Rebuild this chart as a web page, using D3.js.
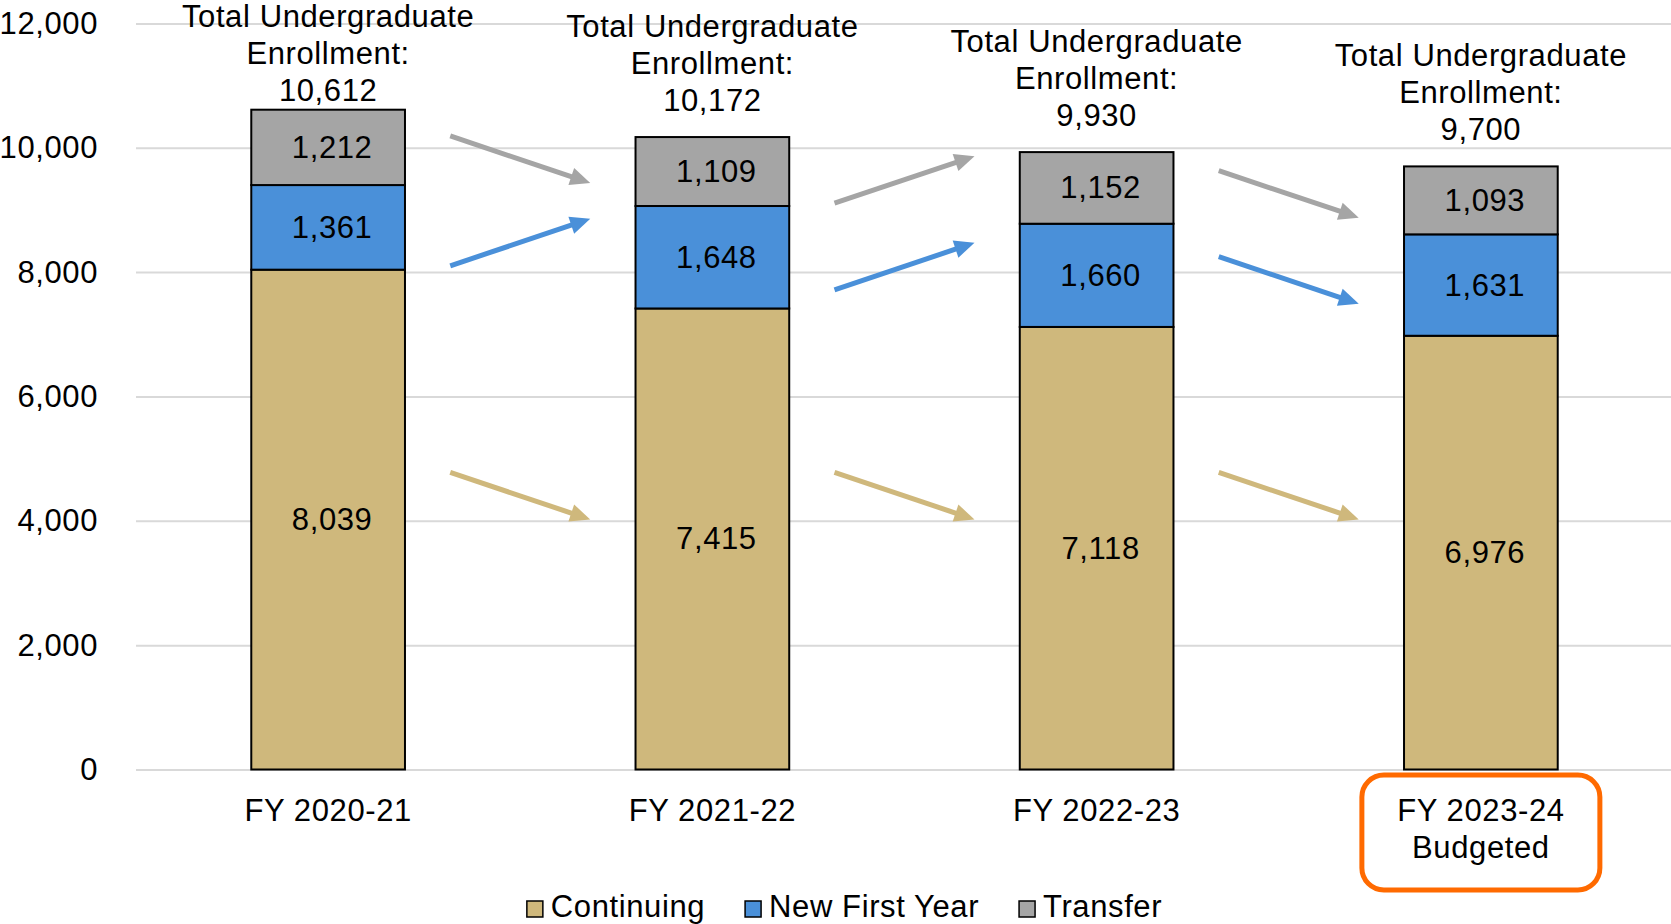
<!DOCTYPE html>
<html>
<head>
<meta charset="utf-8">
<script src="https://cdn.jsdelivr.net/npm/d3@7"></script>
<style>
  html, body { margin: 0; padding: 0; background: #fff; }
  svg { display: block; font-family: "Liberation Sans", Arial, Helvetica, sans-serif; }
  svg text { letter-spacing: 0.6px; }
</style>
</head>
<body>
<svg id="chart" width="1671" height="924"></svg>
<script>
// Undergraduate enrollment by student type, FY 2020-21 to FY 2023-24 (budgeted)
const categories = ["FY 2020-21", "FY 2021-22", "FY 2022-23", "FY 2023-24"];
const categoryLines = [["FY 2020-21"], ["FY 2021-22"], ["FY 2022-23"], ["FY 2023-24", "Budgeted"]];
const highlightedCategory = "FY 2023-24";

const continuing   = [8039, 7415, 7118, 6976];
const newFirstYear = [1361, 1648, 1660, 1631];
const transfer     = [1212, 1109, 1152, 1093];
const totals       = [10612, 10172, 9930, 9700];

const seriesNames = ["Continuing", "New First Year", "Transfer"];
const yTicks = [0, 2000, 4000, 6000, 8000, 10000, 12000];

const colors = {
  "Continuing": "#CFB87C",
  "New First Year": "#4A90D9",
  "Transfer": "#A5A5A5"
};

const rows = categories.map((c, i) => ({
  category: c,
  "Continuing": continuing[i],
  "New First Year": newFirstYear[i],
  "Transfer": transfer[i],
  total: totals[i]
}));

const svg = d3.select("#chart");
const W = 1671;
const FONT = 31;

const x = d3.scaleBand()
  .domain(categories)
  .range([136, 1673])
  .paddingInner(0.6)
  .paddingOuter(0.3);

const y = d3.scaleLinear()
  .domain([0, 12000])
  .range([769.5, 23.4]);

const bw = x.bandwidth();

// Value axis with horizontal gridlines
const yAxis = svg.append("g")
  .attr("transform", "translate(136,0)")
  .call(d3.axisLeft(y)
    .tickValues(yTicks)
    .tickFormat(d3.format(","))
    .tickSize(-(W - 136))
    .tickPadding(38));
yAxis.select(".domain").remove();
yAxis.selectAll(".tick line").attr("stroke", "#D9D9D9").attr("stroke-width", 2);
yAxis.selectAll(".tick text")
  .attr("fill", "#000")
  .style("font-size", FONT + "px")
  .style("font-family", "'Liberation Sans', Arial, sans-serif");

// Stacked bars
const stacked = d3.stack().keys(seriesNames)(rows);

const layers = svg.append("g").selectAll("g")
  .data(stacked)
  .join("g")
  .attr("fill", d => colors[d.key]);

layers.selectAll("rect")
  .data(d => d)
  .join("rect")
  .attr("x", d => x(d.data.category))
  .attr("y", d => y(d[1]))
  .attr("width", bw)
  .attr("height", d => y(d[0]) - y(d[1]))
  .attr("stroke", "#000")
  .attr("stroke-width", 2);

// Segment value labels
layers.selectAll("text")
  .data(d => d)
  .join("text")
  .attr("x", d => x(d.data.category) + bw / 2 + 4)
  .attr("y", d => (y(d[0]) + y(d[1])) / 2)
  .attr("text-anchor", "middle")
  .attr("dominant-baseline", "central")
  .attr("fill", "#000")
  .style("font-size", FONT + "px")
  .text(d => d3.format(",")(d[1] - d[0]));

// Total labels above each bar
const lineH = 37;
rows.forEach(r => {
  const lastBase = y(r.total) - 26;
  const firstBase = Math.max(27, lastBase - 2 * lineH);
  const lines = ["Total Undergraduate", "Enrollment:", d3.format(",")(r.total)];
  svg.append("text")
    .attr("x", x(r.category) + bw / 2)
    .attr("text-anchor", "middle")
    .attr("fill", "#000")
    .style("font-size", FONT + "px")
    .selectAll("tspan")
    .data(lines)
    .join("tspan")
    .attr("x", x(r.category) + bw / 2)
    .attr("y", (d, i) => firstBase + i * lineH)
    .text(d => d);
});

// Category labels
categories.forEach((c, i) => {
  svg.append("text")
    .attr("text-anchor", "middle")
    .attr("fill", "#000")
    .style("font-size", FONT + "px")
    .selectAll("tspan")
    .data(categoryLines[i])
    .join("tspan")
    .attr("x", x(c) + bw / 2)
    .attr("y", (d, j) => 821 + j * lineH)
    .text(d => d);
});

// Highlight box around the budgeted year
svg.append("rect")
  .attr("x", x(highlightedCategory) + bw / 2 - 119)
  .attr("y", 775)
  .attr("width", 238)
  .attr("height", 115)
  .attr("rx", 22)
  .attr("fill", "none")
  .attr("stroke", "#FF6A00")
  .attr("stroke-width", 5);

// Year-over-year change arrows between bars
const arrows = svg.append("g");
function drawArrow(x0, y0, x1, y1, color) {
  const len = Math.hypot(x1 - x0, y1 - y0);
  const ux = (x1 - x0) / len, uy = (y1 - y0) / len;
  const nx = -uy, ny = ux;
  const headL = 20, headW = 9;
  arrows.append("line")
    .attr("x1", x0).attr("y1", y0)
    .attr("x2", x1 - ux * (headL - 3)).attr("y2", y1 - uy * (headL - 3))
    .attr("stroke", color)
    .attr("stroke-width", 5);
  const bx = x1 - ux * headL, by = y1 - uy * headL;
  arrows.append("path")
    .attr("d", `M${x1},${y1}L${bx + nx * headW},${by + ny * headW}L${bx - nx * headW},${by - ny * headW}Z`)
    .attr("fill", color);
}

const segMid = (s, i) => (y(stacked[s][i][0]) + y(stacked[s][i][1])) / 2;
for (let i = 0; i < categories.length - 1; i++) {
  const cx = (x(categories[i]) + bw + x(categories[i + 1])) / 2;
  const halfLen = 70, halfRise = 23.5;
  seriesNames.forEach((key, s) => {
    const a = rows[i][key], b = rows[i + 1][key];
    const dir = b >= a ? -1 : 1;
    const cy = key === "Continuing" ? y(4400) : (segMid(s, i) + segMid(s, i + 1)) / 2;
    drawArrow(cx - halfLen, cy - dir * halfRise, cx + halfLen, cy + dir * halfRise, colors[key]);
  });
}

// Legend
const legend = svg.append("g");
let lx = 0;
seriesNames.forEach(name => {
  const g = legend.append("g").attr("transform", `translate(${lx},0)`);
  g.append("rect")
    .attr("x", 0).attr("y", 901)
    .attr("width", 16).attr("height", 16)
    .attr("fill", colors[name])
    .attr("stroke", "#000")
    .attr("stroke-width", 1.5);
  const t = g.append("text")
    .attr("x", 24).attr("y", 917)
    .attr("fill", "#000")
    .style("font-size", FONT + "px")
    .text(name);
  lx += 24 + t.node().getComputedTextLength() + 40;
});
const legendWidth = lx - 40;
legend.attr("transform", `translate(${844.5 - legendWidth / 2},0)`);
</script>
</body>
</html>
